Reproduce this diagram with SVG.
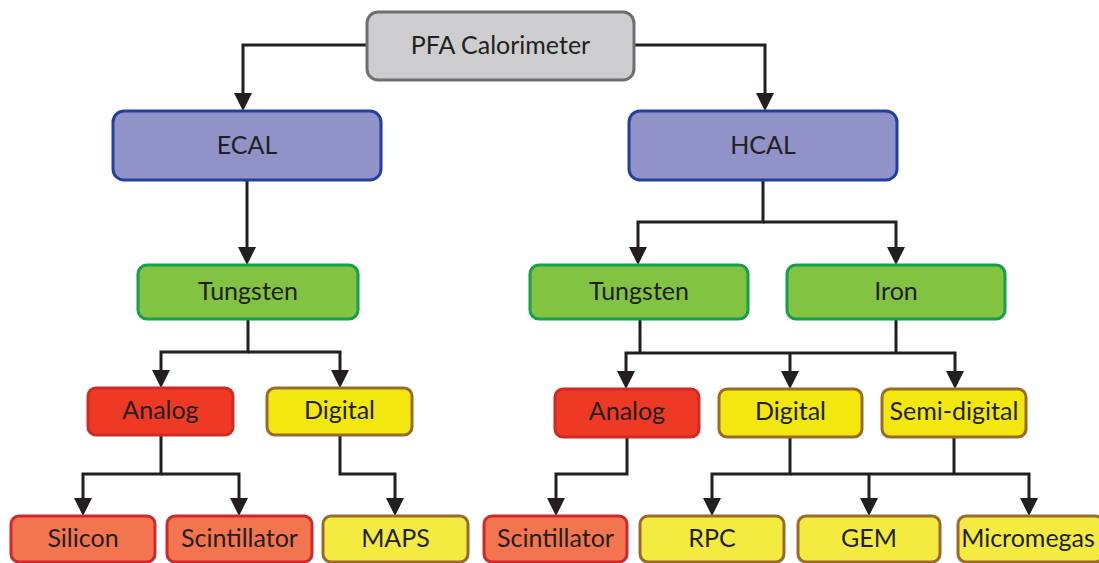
<svg xmlns="http://www.w3.org/2000/svg" width="1099" height="563" viewBox="0 0 1099 563">
<defs>
<style>
.b{stroke-width:3}
.t{font-family:Lato,"Liberation Sans",sans-serif;font-size:25px;fill:#231f20;text-anchor:middle;dominant-baseline:central}
.gray{fill:#cdcdcf;stroke:#6d6e70}
.blue{fill:#9192c8;stroke:#2140a0}
.green{fill:#82c341;stroke:#14a04a}
.red{fill:#ee3a24;stroke:#cf2a27}
.yel{fill:#f2e80f;stroke:#9a6a2a}
.org{fill:#f3754f;stroke:#d1292a}
.ly{fill:#f3eb3f;stroke:#9a6a2a}
.c path{fill:none;stroke:#231f20;stroke-width:3;marker-end:url(#ah)}
.c path.n{marker-end:none}
</style>
<marker id="ah" viewBox="0 0 18 18" refX="9" refY="9" markerWidth="18" markerHeight="18" markerUnits="userSpaceOnUse" orient="auto"><path d="M0,0 L18,9 L0,18 z" fill="#231f20"/></marker>
</defs>
<rect width="1099" height="563" fill="#fff"/>
<g class="c" id="connectors">
<path d="M367,45 H243 V102"/>
<path d="M634,45 H765 V102"/>
<path d="M247,180 V256"/>
<path d="M763,180 V222 H638 V256"/>
<path d="M763,222 H896 V256"/>
<path d="M248,319 V352 H161 V379"/>
<path d="M248,352 H340 V379"/>
<path class="n" d="M640,319 V353"/>
<path class="n" d="M896,319 V353"/>
<path d="M640,353 H626 V380"/>
<path d="M640,353 H955 V380"/>
<path d="M790,353 V380"/>
<path d="M161,435 V474 H83 V507"/>
<path d="M161,474 H239 V507"/>
<path d="M340,435 V474 H395 V507"/>
<path d="M627,437 V474 H556 V507"/>
<path d="M790,437 V474 H712 V507"/>
<path d="M790,474 H1029 V507"/>
<path d="M869,474 V507"/>
<path class="n" d="M954,437 V474"/>
</g>
<g id="pfa"><rect class="b gray" x="367" y="12" width="267" height="68" rx="11"/><text class="t" x="500.5" y="44">PFA Calorimeter</text></g>
<g id="ecal"><rect class="b blue" x="113" y="111" width="268" height="69" rx="11"/><text class="t" x="247" y="144">ECAL</text></g>
<g id="hcal"><rect class="b blue" x="629" y="111" width="268" height="69" rx="11"/><text class="t" x="763" y="144">HCAL</text></g>
<g id="tungsten-e"><rect class="b green" x="138" y="265" width="220" height="54" rx="9"/><text class="t" x="248" y="290">Tungsten</text></g>
<g id="tungsten-h"><rect class="b green" x="530" y="265" width="218" height="54" rx="9"/><text class="t" x="639" y="290">Tungsten</text></g>
<g id="iron"><rect class="b green" x="787" y="265" width="218" height="54" rx="9"/><text class="t" x="896" y="290">Iron</text></g>
<g id="analog-e"><rect class="b red" x="88" y="388" width="145" height="47" rx="8"/><text class="t" x="160.5" y="409">Analog</text></g>
<g id="digital-e"><rect class="b yel" x="267" y="388" width="145" height="47" rx="8"/><text class="t" x="339.5" y="409">Digital</text></g>
<g id="analog-h"><rect class="b red" x="555" y="389" width="144" height="48" rx="8"/><text class="t" x="627" y="410">Analog</text></g>
<g id="digital-h"><rect class="b yel" x="719" y="389" width="143" height="48" rx="8"/><text class="t" x="790.5" y="410">Digital</text></g>
<g id="semidigital"><rect class="b yel" x="882" y="389" width="144" height="48" rx="8"/><text class="t" x="954" y="410">Semi-digital</text></g>
<g id="silicon"><rect class="b org" x="11" y="516" width="144" height="46" rx="8"/><text class="t" x="83" y="537">Silicon</text></g>
<g id="scint-e"><rect class="b org" x="167" y="516" width="145" height="46" rx="8"/><text class="t" x="239.5" y="537">Scintillator</text></g>
<g id="maps"><rect class="b ly" x="323" y="516" width="145" height="46" rx="8"/><text class="t" x="395.5" y="537">MAPS</text></g>
<g id="scint-h"><rect class="b org" x="484" y="516" width="143" height="46" rx="8"/><text class="t" x="555.5" y="537">Scintillator</text></g>
<g id="rpc"><rect class="b ly" x="640" y="516" width="144" height="46" rx="8"/><text class="t" x="712" y="537">RPC</text></g>
<g id="gem"><rect class="b ly" x="798" y="516" width="142" height="46" rx="8"/><text class="t" x="869" y="537">GEM</text></g>
<g id="micromegas"><rect class="b ly" x="958" y="516" width="145" height="46" rx="8"/><text class="t" x="1028" y="537">Micromegas</text></g>
</svg>
